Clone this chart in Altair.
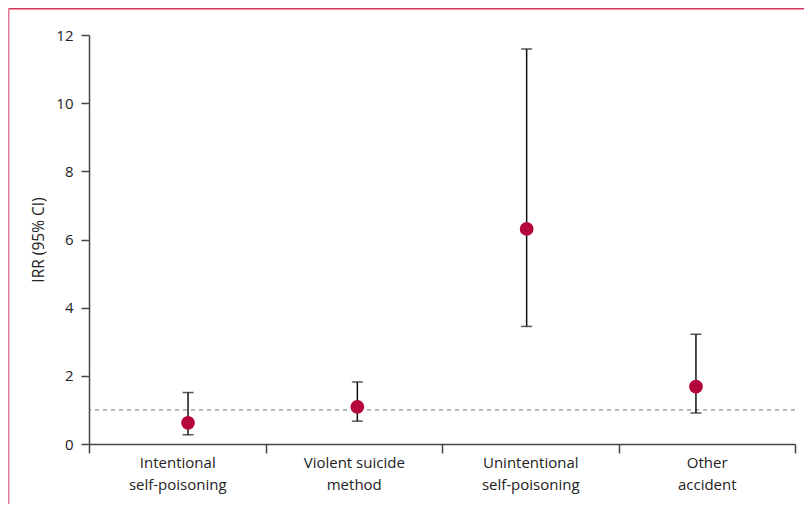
import altair as alt
import pandas as pd

categories = ["Intentional\nself-poisoning", "Violent suicide\nmethod",
              "Unintentional\nself-poisoning", "Other\naccident"]
irr = [0.62, 1.09, 6.31, 1.68]
lower = [0.27, 0.67, 3.45, 0.91]
upper = [1.51, 1.82, 11.59, 3.22]
y_ticks = [0, 2, 4, 6, 8, 10, 12]
reference_line = 1

df = pd.DataFrame({"cat": categories, "irr": irr, "lo": lower, "hi": upper})

FONT = "Open Sans"
W, H = 706, 409
PL, PT, PR, PB = 81, 27, 9, 60

# axis-only band scale (labels centred in bands, ticks at band edges)
x_axis_enc = alt.X("cat:N", sort=categories, title=None,
                   scale=alt.Scale(type="band", paddingInner=0, paddingOuter=0),
                   axis=alt.Axis(labelExpr="split(datum.label, '\\n')", labelAngle=0,
                                 tickBand="extent", tickSize=9, labelPadding=2,
                                 labelLineHeight=22, labelFontSize=15, labelFont=FONT,
                                 labelColor="#222", domainColor="#444", tickColor="#444",
                                 domainWidth=1.5, tickWidth=1.5))
# data marks on a point scale
x_pt = alt.X("cat:N", sort=categories, title=None,
             scale=alt.Scale(type="point", padding=0.585), axis=None)

y_scale = alt.Scale(domain=[0, 12], nice=False, zero=True)
y_axis = alt.Axis(values=y_ticks, tickSize=8, labelPadding=8, labelFontSize=15,
                  labelFont=FONT, labelColor="#222", domainColor="#444",
                  tickColor="#444", domainWidth=1.5, tickWidth=1.5, grid=False,
                  title="IRR (95% CI)", titleFont=FONT, titleFontSize=15.5,
                  titleFontWeight="normal", titleColor="#222", titlePadding=9)

base = alt.Chart(df)

axis_layer = base.mark_point(opacity=0).encode(
    x=x_axis_enc, y=alt.Y("irr:Q", scale=y_scale, axis=y_axis))

bars = base.mark_rule(color="#111", strokeWidth=1.5).encode(
    x=x_pt, y=alt.Y("lo:Q", scale=y_scale), y2="hi:Q")
cap_lo = base.mark_tick(color="#111", size=11, thickness=1.5).encode(x=x_pt, y="lo:Q")
cap_hi = base.mark_tick(color="#111", size=11, thickness=1.5).encode(x=x_pt, y="hi:Q")
pts = base.mark_circle(color="#b5063b", opacity=1, size=190).encode(x=x_pt, y="irr:Q")
data_layer = alt.layer(bars, cap_lo, cap_hi, pts)

ref = alt.Chart(pd.DataFrame({"v": [reference_line]})).mark_rule(
    color="#5f7686", strokeDash=[4, 4], strokeWidth=1).encode(y="v:Q")

frame_top = alt.Chart(pd.DataFrame({"a": [0]})).mark_rule(
    color="#d3335a", strokeWidth=2).encode(
    x=alt.value(-PL), x2=alt.value(W + PR), y=alt.value(-PT + 0.5))
frame_left = alt.Chart(pd.DataFrame({"a": [0]})).mark_rule(
    color="#e07b96", strokeWidth=2).encode(
    x=alt.value(-PL + 0.5), y=alt.value(-PT), y2=alt.value(H + PB))

chart = alt.layer(axis_layer, ref, data_layer, frame_top, frame_left).resolve_scale(
    x="independent").properties(
    width=W, height=H,
    padding={"left": PL, "top": PT, "right": PR, "bottom": PB},
    autosize=alt.AutoSizeParams(type="none"),
).configure_view(stroke=None)

chart.save("out.html", embed_options={"renderer": "svg", "actions": False})
